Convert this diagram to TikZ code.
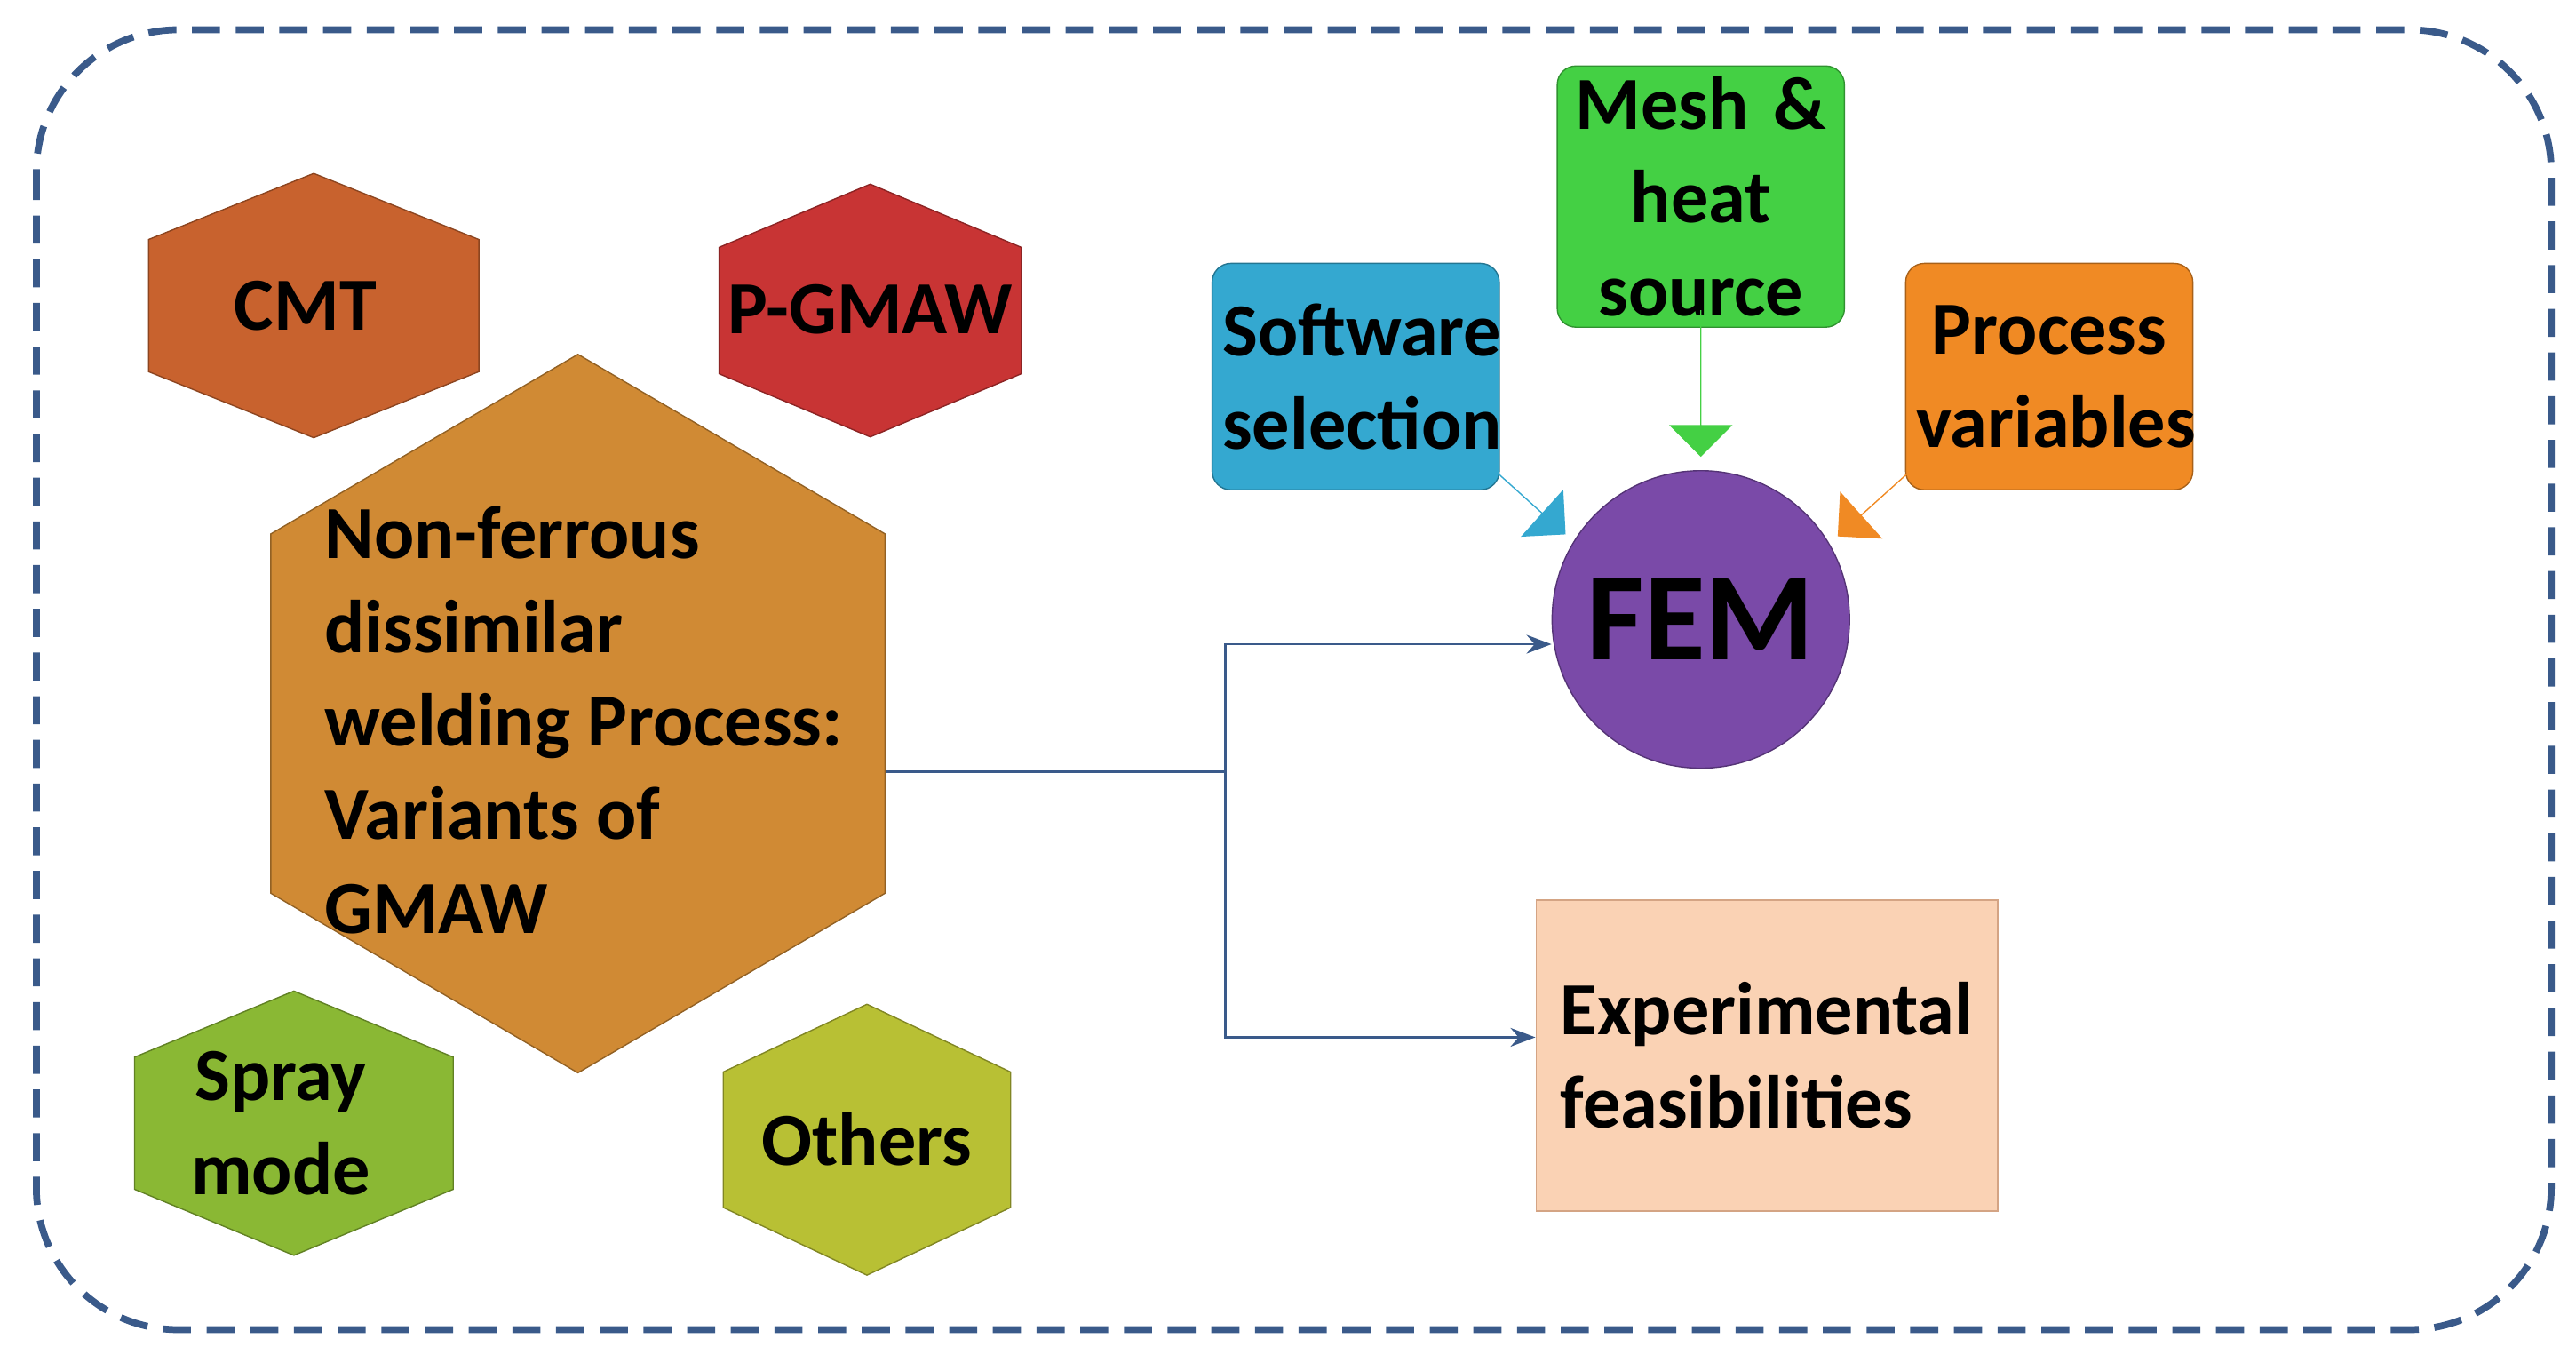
\documentclass[tikz,border=0pt]{standalone}
\usepackage{fontspec}
\setmainfont{Carlito}
\usetikzlibrary{arrows.meta,shapes.arrows}
\definecolor{frame}{HTML}{3A5A8A}
\definecolor{cmt}{HTML}{C8622E}
\definecolor{pg}{HTML}{C83434}
\definecolor{big}{HTML}{D08A34}
\definecolor{spray}{HTML}{8AB834}
\definecolor{others}{HTML}{B8C034}
\definecolor{soft}{HTML}{34A8D0}
\definecolor{mesh}{HTML}{44D044}
\definecolor{proc}{HTML}{F08A24}
\definecolor{fem}{HTML}{7A4AA8}
\definecolor{expf}{HTML}{FAD2B4}
\definecolor{expd}{HTML}{D4A484}
\newcommand{\hexshape}[5]{% color, cx, cy, w, h
\fill[#1,draw=#1!70!black] (#2-#4/2,#3-#5/4)--(#2,#3-#5/2)--(#2+#4/2,#3-#5/4)
 --(#2+#4/2,#3+#5/4)--(#2,#3+#5/2)--(#2-#4/2,#3+#5/4)--cycle;}
\tikzset{
 txt/.style={font=\fontsize{24}{30}\selectfont\bfseries,align=center},
 box/.style={txt,rounded corners=6pt,text width=#1,minimum height=2.55cm},
 fat/.style={single arrow,minimum height=#1,single arrow head extend=0.35cm,minimum width=0.55cm,inner sep=0pt},
 link/.style={frame,thick,-{Stealth[length=8pt]}}
}
\begin{document}
\begin{tikzpicture}[x=0.0186cm,y=-0.0186cm]
\useasboundingbox (0,0) rectangle (1560,825);
\draw[frame,line width=2.2pt,dash pattern=on 9pt off 5pt,rounded corners=1.6cm] (22,18) rectangle (1545,805);
% hexagons
\hexshape{cmt}{190}{185}{200}{160}
\hexshape{pg}{527}{188}{183}{153}
\hexshape{spray}{178}{680}{193}{160}
\hexshape{others}{525}{690}{174}{164}
\hexshape{big}{350}{432}{372}{435}
\node[txt] (cmt) at (185,185) {CMT};
\node[txt] (pgmaw) at (527,187) {P-GMAW};
\node[txt] (spray) at (170,680) {Spray\\mode};
\node[txt] (others) at (525,690) {Others};
\node[txt,align=left,anchor=west] (nf) at (190,436) {Non-ferrous\\dissimilar\\welding Process:\\Variants of\\GMAW};
\coordinate (nfr) at (537,467);
% right side
\node[box=3cm,fill=soft,draw=soft!70!black] (soft) at (821,228) {Software\\selection};
\node[box=3cm,fill=mesh,draw=mesh!70!black] (mesh) at (1030,119) {Mesh \&\\heat\\source};
\node[box=3cm,fill=proc,draw=proc!70!black] (proc) at (1241,228) {Process\\variables};
\node[circle,fill=fem,draw=fem!70!black,minimum size=3.35cm,font=\fontsize{40}{48}\selectfont\bfseries] (fem) at (1030,375) {FEM};
\node[fill=expf,draw=expd,minimum width=5.2cm,minimum height=3.5cm,txt,align=left] (exp) at (1070,639) {Experimental\\feasibilities};
% fat arrows
\node[fat=1.65cm,fill=mesh,rotate=-90] at (1030,232) {};
\node[fat=1.3cm,fill=soft,rotate=-42] at (922,300) {};
\node[fat=1.2cm,fill=proc,rotate=-138] at (1137,303) {};
% connectors
\coordinate (split) at (742,467);
\draw[frame,thick] (nfr)--(split);
\draw[link] (split)|-(fem.west|-0,390);
\draw[link] (split)|-(exp.west|-0,628);
\end{tikzpicture}
\end{document}
